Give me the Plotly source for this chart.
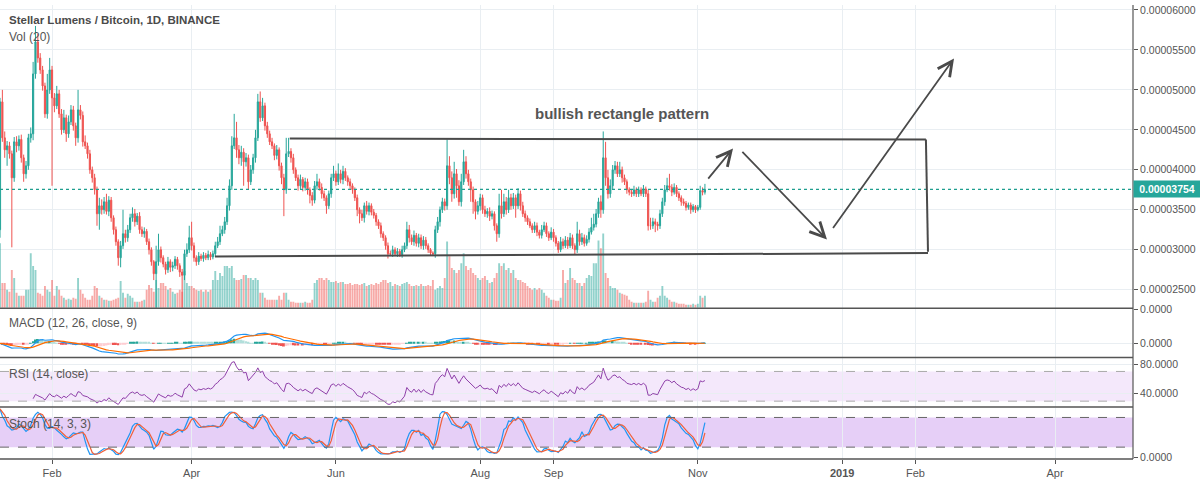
import numpy as np
import pandas as pd
import plotly.graph_objects as go

# ---------------- data (prices in satoshi = 1e-8 BTC) ----------------
START_DATE = "2018-01-10"
first_open = 3250
closes = [
    4850, 4400, 4250, 4300, 4200, 3900, 4350, 4300, 4380, 4150,
    3950, 4050, 4400, 4450, 5200, 5600, 5400, 5250, 5050, 4700,
    5000, 5250, 4900, 4800, 4950, 4700, 4500, 4650, 4450, 4600,
    4750, 4550, 4400, 4750, 4680, 4350, 4300, 4200, 4000, 3900,
    3750, 3450, 3550, 3500, 3600, 3480, 3620, 3400, 3250, 3100,
    2900, 3050, 3200, 3150, 3250, 3400, 3450, 3350, 3420, 3250,
    3200, 3230, 3100, 3000, 2850, 2700, 2850, 3000, 2900, 2820,
    2750, 2850, 2780, 2800, 2880, 2800, 2720, 2680, 2950, 3000,
    3150, 3050, 2900, 2850, 2920, 2890, 2930, 2900, 2940, 2910,
    2950, 3050, 3100, 3200, 3250, 3350, 3550, 3800, 4300, 4400,
    4250, 4150, 4220, 4100, 4150, 3850, 4000, 4150, 4400, 4850,
    4650, 4800, 4550, 4450, 4350, 4300, 4180, 4250, 4050, 3900,
    3750, 4200, 4230, 4150, 4000, 3900, 3800, 3880, 3780, 3850,
    3750, 3680, 3620, 3800, 3850, 3780, 3700, 3650, 3550, 3700,
    3900, 3950, 3850, 3950, 3880, 3980, 3900, 3850, 3800, 3750,
    3650, 3500, 3450, 3400, 3550, 3480, 3550, 3470, 3430, 3350,
    3300, 3200, 3150, 3050, 2950, 2950, 3000, 2950, 2980, 2940,
    3000, 3050, 3250, 3150, 3100, 3180, 3080, 3150, 3050, 3120,
    3050, 3000, 2960, 2950, 3250, 3350, 3500, 3600, 3550, 4050,
    3900, 3700, 3950, 3800, 3600, 3850, 4100, 3950, 3850, 3750,
    3600, 3480, 3550, 3650, 3500, 3450, 3480, 3420, 3450, 3300,
    3200, 3550, 3450, 3600, 3500, 3650, 3550, 3650, 3550, 3700,
    3550, 3450, 3400, 3350, 3300, 3250, 3300, 3220, 3180, 3250,
    3300, 3200, 3150, 3220, 3150, 3080, 3000, 3100, 3050, 3120,
    3050, 3150, 3050, 3000, 3200, 3100, 3150, 3080, 3130, 3220,
    3280, 3320, 3450, 3600, 3500, 4150, 3900, 3700, 3800, 4000,
    4050, 3950, 4000, 3900, 3850, 3750, 3720, 3700, 3750, 3700,
    3750, 3700, 3760, 3700, 3300, 3300, 3350, 3320, 3300, 3450,
    3600, 3750, 3800, 3780, 3720, 3780, 3700, 3650, 3600, 3580,
    3530, 3560, 3500, 3540, 3500, 3530, 3740, 3720, 3754,
]
wick_up = [
    50, 150, 80, 60, 50, 40, 60, 70, 50, 60,
    40, 60, 50, 80, 150, 200, 100, 60, 50, 40,
    200, 150, 50, 60, 100, 50, 60, 100, 40, 80,
    60, 50, 40, 250, 60, 50, 80, 40, 50, 40,
    50, 40, 100, 80, 60, 100, 50, 40, 30, 40,
    30, 60, 300, 50, 60, 50, 80, 60, 40, 50,
    40, 50, 30, 40, 30, 20, 200, 200, 40, 30,
    30, 60, 30, 50, 40, 30, 30, 40, 50, 80,
    150, 200, 40, 30, 50, 30, 40, 30, 50, 30,
    40, 50, 60, 100, 50, 60, 100, 80, 120, 300,
    200, 60, 80, 50, 60, 40, 60, 50, 100, 100,
    130, 100, 40, 50, 40, 50, 30, 60, 30, 40,
    50, 200, 170, 40, 50, 30, 40, 60, 30, 50,
    40, 30, 40, 60, 100, 40, 50, 40, 30, 40,
    50, 100, 40, 130, 50, 70, 40, 30, 40, 30,
    30, 40, 30, 50, 40, 60, 40, 30, 40, 30,
    30, 40, 30, 30, 40, 40, 50, 30, 40, 30,
    50, 40, 100, 60, 40, 60, 30, 50, 40, 50,
    40, 30, 20, 20, 50, 60, 40, 50, 40, 330,
    120, 80, 150, 60, 70, 100, 150, 70, 50, 40,
    40, 30, 60, 50, 40, 50, 40, 50, 40, 30,
    30, 150, 200, 100, 60, 100, 50, 60, 40, 70,
    40, 50, 40, 30, 40, 30, 50, 40, 30, 60,
    50, 40, 30, 60, 40, 30, 30, 60, 40, 50,
    40, 60, 40, 30, 150, 50, 60, 40, 50, 50,
    120, 130, 60, 50, 80, 330, 200, 100, 80, 60,
    60, 50, 100, 40, 40, 30, 30, 40, 50, 30,
    40, 30, 50, 30, 50, 100, 50, 40, 30, 50,
    50, 60, 100, 150, 40, 50, 30, 30, 30, 40,
    30, 30, 30, 30, 20, 30, 60, 40, 70,
]
wick_down = [
    100, 50, 100, 200, 60, 870, 50, 80, 60, 60,
    100, 60, 50, 60, 80, 60, 60, 50, 60, 50,
    60, 50, 1100, 80, 40, 50, 60, 40, 100, 50,
    40, 60, 100, 60, 50, 60, 40, 60, 50, 60,
    60, 150, 200, 60, 50, 40, 60, 50, 60, 50,
    100, 120, 40, 60, 50, 40, 50, 60, 40, 50,
    40, 50, 40, 60, 50, 80, 450, 50, 60, 40,
    60, 40, 60, 50, 40, 50, 60, 480, 60, 40,
    40, 60, 50, 50, 40, 30, 40, 30, 30, 40,
    30, 40, 30, 40, 30, 50, 40, 60, 50, 40,
    100, 80, 100, 300, 60, 100, 40, 50, 60, 40,
    50, 40, 60, 50, 40, 40, 60, 50, 60, 80,
    330, 50, 40, 60, 50, 40, 60, 40, 50, 40,
    60, 100, 70, 40, 50, 40, 60, 40, 100, 40,
    50, 40, 50, 40, 50, 60, 40, 50, 40, 50,
    40, 80, 120, 40, 60, 40, 50, 40, 40, 50,
    40, 50, 40, 50, 60, 20, 40, 30, 40, 30,
    40, 30, 40, 60, 40, 50, 40, 50, 40, 50,
    40, 40, 30, 30, 50, 40, 60, 40, 60, 50,
    80, 100, 60, 150, 50, 60, 40, 60, 50, 150,
    150, 100, 40, 60, 50, 40, 50, 60, 40, 60,
    100, 50, 60, 40, 60, 40, 50, 40, 150, 40,
    60, 40, 50, 40, 30, 40, 40, 50, 40, 40,
    30, 40, 40, 30, 50, 40, 40, 30, 40, 30,
    40, 30, 40, 60, 40, 50, 40, 40, 30, 40,
    30, 40, 40, 50, 100, 50, 100, 60, 50, 40,
    50, 40, 40, 60, 40, 50, 40, 40, 30, 40,
    40, 30, 40, 40, 60, 50, 40, 100, 60, 40,
    40, 50, 30, 40, 50, 30, 40, 40, 50, 30,
    40, 30, 50, 30, 40, 20, 30, 40, 30,
]
volumes = [
    65, 25, 25, 18, 16, 38, 30, 15, 12, 12,
    12, 18, 18, 55, 42, 38, 15, 14, 12, 22,
    18, 16, 28, 12, 22, 18, 12, 10, 8, 9,
    8, 10, 9, 30, 18, 14, 10, 8, 8, 12,
    22, 20, 12, 10, 8, 8, 7, 7, 8, 9,
    10, 27, 15, 10, 14, 12, 10, 6, 6, 6,
    7, 8, 18, 23, 20, 16, 28, 20, 25, 25,
    22, 18, 20, 16, 14, 15, 18, 16, 37, 25,
    22, 22, 20, 18, 17, 18, 16, 18, 16, 18,
    28, 37, 28, 35, 32, 42, 42, 40, 42, 30,
    28, 28, 29, 33, 33, 30, 30, 28, 30, 28,
    15, 15, 10, 8, 8, 8, 8, 8, 12, 8,
    15, 15, 8, 6, 6, 5, 5, 5, 5, 6,
    5, 5, 8, 25, 28, 30, 30, 28, 30, 28,
    26, 26, 27, 25, 26, 26, 24, 24, 25, 23,
    24, 24, 23, 24, 25, 22, 23, 24, 23, 25,
    24, 26, 28, 28, 25, 26, 22, 24, 23, 22,
    24, 25, 26, 24, 22, 22, 23, 22, 24, 22,
    22, 23, 22, 28, 18, 20, 22, 20, 30, 67,
    52, 40, 38, 35, 38, 45, 55, 42, 38, 40,
    35, 33, 30, 28, 30, 32, 28, 25, 26, 30,
    35, 45, 42, 45, 38, 40, 35, 38, 30, 28,
    28, 26, 25, 22, 20, 18, 20, 18, 20, 18,
    15, 12, 10, 8, 8, 7, 7, 10, 38, 25,
    28, 40, 30, 28, 25, 25, 22, 25, 30, 33,
    32, 45, 45, 68, 60, 75, 35, 30, 22, 20,
    20, 18, 15, 14, 13, 12, 8, 6, 5, 5,
    5, 5, 5, 6, 17, 8, 6, 6, 10, 12,
    22, 12, 10, 8, 6, 6, 5, 4, 4, 4,
    3, 3, 3, 4, 3, 4, 12, 10, 12,
]
month_ticks = ["2018-02-01", "2018-04-01", "2018-06-01", "2018-08-01", "2018-09-01",
               "2018-11-01", "2019-01-01", "2019-02-01", "2019-04-01"]
month_labels = ["Feb", "Apr", "Jun", "Aug", "Sep", "Nov", "<b>2019</b>", "Feb", "Apr"]
price_ticks_sat = [2500, 3000, 3500, 4000, 4500, 5000, 5500, 6000]
last_price_text = "0.00003754"

# ---------------- derived OHLC & indicators ----------------
SAT = 1e-8
n = len(closes)
dates = pd.date_range(START_DATE, periods=n, freq="D")
c = np.array(closes, float)
o = np.concatenate([[first_open], c[:-1]])
h = np.maximum(o, c) + np.array(wick_up, float)
l = np.minimum(o, c) - np.array(wick_down, float)
is_up = c >= o

cs = pd.Series(c * SAT)
ema12 = cs.ewm(span=12, adjust=False).mean()
ema26 = cs.ewm(span=26, adjust=False).mean()
macd = ema12 - ema26
signal = macd.ewm(span=9, adjust=False).mean()
hist = macd - signal
hist_colors = []
for i in range(n):
    prev = hist.iloc[i - 1] if i > 0 else 0
    v = hist.iloc[i]
    if v >= 0:
        hist_colors.append("#26a69a" if v >= prev else "#b2dfdb")
    else:
        hist_colors.append("#ef5350" if v <= prev else "#ffcdd2")

delta = cs.diff()
gain = delta.clip(lower=0)
loss = -delta.clip(upper=0)
avg_g = gain.ewm(alpha=1 / 14, adjust=False, min_periods=14).mean()
avg_l = loss.ewm(alpha=1 / 14, adjust=False, min_periods=14).mean()
rsi = 100 - 100 / (1 + avg_g / avg_l)

hh = pd.Series(h).rolling(14, min_periods=1).max()
ll = pd.Series(l).rolling(14, min_periods=1).min()
raw_k = 100 * (pd.Series(c) - ll) / (hh - ll)
stoch_k = raw_k.rolling(3, min_periods=1).mean()
stoch_d = stoch_k.rolling(3, min_periods=1).mean()

# ---------------- style ----------------
UP = "#26a69a"
DN = "#ef5350"
GRID = "#e9eef2"
TXT = "#555555"
FONT = "Liberation Sans"
H_PLOT = 459.0


def py(pix):  # pixel row inside plot area -> paper y
    return (H_PLOT - pix) / H_PLOT


fig = go.Figure()

fig.add_trace(go.Bar(
    x=dates, y=volumes, yaxis="y",
    marker=dict(color=["rgba(38,166,154,0.5)" if u else "rgba(239,83,80,0.5)" for u in is_up],
                line=dict(width=0)),
    hoverinfo="skip"))

fig.add_trace(go.Candlestick(
    x=dates, open=o * SAT, high=h * SAT, low=l * SAT, close=c * SAT,
    yaxis="y5", whiskerwidth=0,
    increasing=dict(line=dict(color=UP, width=1), fillcolor=UP),
    decreasing=dict(line=dict(color=DN, width=1), fillcolor=DN)))

fig.add_trace(go.Bar(x=dates, y=hist, yaxis="y2", marker=dict(color=hist_colors, line=dict(width=0))))
fig.add_trace(go.Scatter(x=dates, y=macd, yaxis="y2", mode="lines", line=dict(color="#2196f3", width=1.2)))
fig.add_trace(go.Scatter(x=dates, y=signal, yaxis="y2", mode="lines", line=dict(color="#ff6d00", width=1.2)))

fig.add_trace(go.Scatter(x=dates, y=rsi, yaxis="y3", mode="lines", line=dict(color="#8e3fa8", width=1)))

fig.add_trace(go.Scatter(x=dates, y=stoch_k, yaxis="y4", mode="lines", line=dict(color="#2196f3", width=1.2)))
fig.add_trace(go.Scatter(x=dates, y=stoch_d, yaxis="y4", mode="lines", line=dict(color="#f0603a", width=1.2)))

# MACD scaling: zero line sits 35px below panel top, 14px above its bottom
mn = float(min(macd.min(), signal.min()))
mx = float(max(macd.max(), signal.max()))
per_px = max(-mn / 11.0, mx / 32.0)

axis_common = dict(side="right", anchor="x", ticks="outside", ticklen=4, tickcolor=TXT,
                   tickfont=dict(family=FONT, size=10.5, color=TXT), zeroline=False,
                   gridcolor=GRID, showline=False)

fig.update_layout(
    width=1200, height=483,
    margin=dict(l=0, r=67, t=0, b=24),
    paper_bgcolor="white", plot_bgcolor="white",
    showlegend=False, bargap=0.2,
    font=dict(family=FONT, size=10, color=TXT),
    xaxis=dict(type="date", range=["2018-01-10", "2019-05-03 23:00"], anchor="y4",
               tickvals=month_ticks, ticktext=month_labels, showgrid=True, gridcolor=GRID,
               ticks="outside", ticklen=4, tickcolor=TXT, tickangle=0,
               tickfont=dict(family=FONT, size=11, color=TXT),
               rangeslider=dict(visible=False), showline=False, zeroline=False),
    yaxis=dict(domain=[py(306), 1], range=[0, 306], visible=False, fixedrange=True),
    yaxis5=dict(overlaying="y", range=[2275 * SAT, 6062 * SAT],
                tickvals=[t * SAT for t in price_ticks_sat], tickformat=".8f",
                showgrid=True, **axis_common),
    yaxis2=dict(domain=[py(356), py(307)], range=[-14 * per_px, 35 * per_px],
                tickvals=[0, 34 * per_px], ticktext=["0.0000", "0.0000"], showgrid=True, **axis_common),
    yaxis3=dict(domain=[py(406), py(357)], range=[22.67, 88],
                tickvals=[40, 80], ticktext=["40.0000", "80.0000"], showgrid=True, **axis_common),
    yaxis4=dict(domain=[0, py(407)], range=[-4, 100],
                tickvals=[0], ticktext=["0.0000"], showgrid=False, **axis_common),
)

shapes = []
# RSI band + dashed bounds
shapes.append(dict(type="rect", xref="paper", yref="y3", x0=0, x1=1, y0=30, y1=70,
                   fillcolor="#f4e8fb", line=dict(width=0), layer="below"))
for lv in (30, 70):
    shapes.append(dict(type="line", xref="paper", yref="y3", x0=0, x1=1, y0=lv, y1=lv,
                       line=dict(color="#aaaaaa", width=1, dash="dash")))
# Stoch band + dashed bounds
shapes.append(dict(type="rect", xref="paper", yref="y4", x0=0, x1=1, y0=20, y1=80,
                   fillcolor="#e6cff7", line=dict(width=0), layer="below"))
for lv in (20, 80):
    shapes.append(dict(type="line", xref="paper", yref="y4", x0=0, x1=1, y0=lv, y1=lv,
                       line=dict(color="#666666", width=1, dash="dash")))
# last price dotted line
shapes.append(dict(type="line", xref="paper", yref="y5", x0=0, x1=1,
                   y0=3754 * SAT, y1=3754 * SAT, line=dict(color="#1f9e8f", width=1.3, dash="dot")))
# panel separators / frame
for pix in (306.5, 356.5, 406.5):
    shapes.append(dict(type="line", xref="paper", yref="paper", x0=0, x1=1, y0=py(pix), y1=py(pix),
                       line=dict(color="#555555", width=1.5), layer="above"))
shapes.append(dict(type="line", xref="paper", yref="paper", x0=0, x1=1, y0=0, y1=0,
                   line=dict(color="#555555", width=1.5), layer="above"))
shapes.append(dict(type="line", xref="paper", yref="paper", x0=1, x1=1, y0=0, y1=1,
                   line=dict(color="#555555", width=1.2), layer="above"))
# drawn rectangle pattern
RECT = dict(color="#4a4a4a", width=2)
shapes.append(dict(type="line", xref="x", yref="y5", x0="2018-05-12 12:00", y0=4391 * SAT,
                   x1="2019-02-05 10:00", y1=4379 * SAT, line=RECT))
shapes.append(dict(type="line", xref="x", yref="y5", x0="2018-04-10 21:00", y0=2915 * SAT,
                   x1="2019-02-06 07:00", y1=2958 * SAT, line=RECT))
shapes.append(dict(type="line", xref="x", yref="y5", x0="2019-02-05 10:00", y0=4379 * SAT,
                   x1="2019-02-06 07:00", y1=2975 * SAT, line=RECT))
fig.update_layout(shapes=shapes)

ann = []
ann.append(dict(xref="paper", yref="paper", x=0, xshift=7, y=py(15), xanchor="left", yanchor="middle",
                text="<b>Stellar Lumens / Bitcoin, 1D, BINANCE</b>", showarrow=False,
                font=dict(family=FONT, size=11.5, color="#4a4a4a")))
ann.append(dict(xref="paper", yref="paper", x=0, xshift=7, y=py(32), xanchor="left", yanchor="middle",
                text="Vol (20)", showarrow=False, font=dict(family=FONT, size=12, color=TXT)))
ann.append(dict(xref="paper", yref="paper", x=0, xshift=7, y=py(322), xanchor="left", yanchor="middle",
                text="MACD (12, 26, close, 9)", showarrow=False, font=dict(family=FONT, size=12, color=TXT)))
ann.append(dict(xref="paper", yref="paper", x=0, xshift=7, y=py(373), xanchor="left", yanchor="middle",
                text="RSI (14, close)", showarrow=False, font=dict(family=FONT, size=12, color=TXT)))
ann.append(dict(xref="paper", yref="paper", x=0, xshift=7, y=py(424), xanchor="left", yanchor="middle",
                text="Stoch (14, 3, 3)", showarrow=False, font=dict(family=FONT, size=12, color=TXT)))
ann.append(dict(xref="x", yref="y5", x="2018-09-29 19:00", y=4700 * SAT, xanchor="center", yanchor="middle",
                text="<b>bullish rectangle pattern</b>", showarrow=False,
                font=dict(family=FONT, size=15, color="#555555")))
ann.append(dict(xref="paper", yref="y5", x=1, y=3754 * SAT, xanchor="left", yanchor="middle",
                text="<b>" + last_price_text + "</b>", showarrow=False, bgcolor=UP, borderpad=2,
                width=62, align="center", font=dict(family=FONT, size=10.5, color="white")))
arrows = [
    (("2018-11-04 21:00", 3871), ("2018-11-15 21:00", 4267)),
    (("2018-11-19 05:00", 4243), ("2018-12-25 14:00", 3129)),
    (("2018-12-27 17:00", 3253), ("2019-02-17 07:00", 5394)),
]
for (tx, ty), (hx, hy) in arrows:
    ann.append(dict(xref="x", yref="y5", axref="x", ayref="y5", x=hx, y=hy * SAT, ax=tx, ay=ty * SAT,
                    text="", showarrow=True, arrowhead=5, arrowsize=1.6, arrowwidth=1.8,
                    arrowcolor="#4a4a4a", standoff=0, startstandoff=0))
fig.update_layout(annotations=ann)

fig.write_html("out.html")
